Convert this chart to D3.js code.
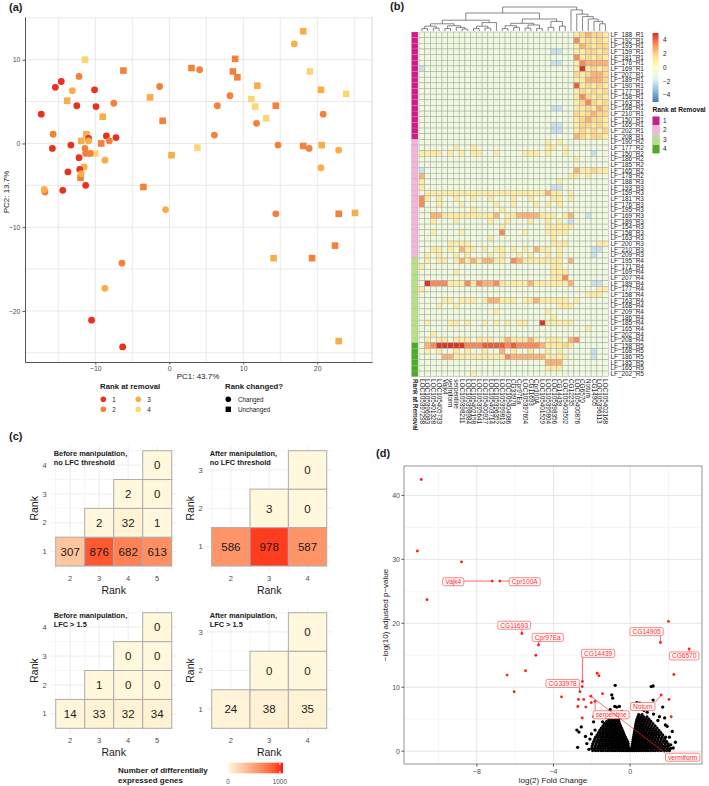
<!DOCTYPE html>
<html>
<head>
<meta charset="utf-8">
<script src="https://cdn.jsdelivr.net/npm/d3@7/dist/d3.min.js"></script>
<style>
  body { margin: 0; background: #fff; }
  svg { display: block; font-family: "Liberation Sans", Arial, sans-serif; }
</style>
</head>
<body>
<svg id="fig" width="709" height="786"></svg>
<script>
// ---------- panel (a) : PCA, [PC1, PC2, rank at removal]
const pcaChanged = [
  [-17.3,3.5,1],[-15.4,6.7,1],[-14.6,7.4,1],[-12.2,8.0,2],[-13.1,6.3,3],[-12.5,4.5,1],
  [-10.1,6.4,1],[-9.9,4.4,1],[-7.5,4.8,2],[-15.7,1.1,2],[-15.8,-0.6,1],[-13.3,-0.2,1],
  [-12.2,-1.7,1],[-11.4,-0.6,2],[-10.9,0.6,1],[-10.9,0.3,3],[-11.3,-1.2,2],[-10.7,-1.2,2],
  [-8.5,0.9,1],[-7.2,0.7,1],[-8.1,0.3,2],[-11.5,-2.8,3],[-12.1,-3.1,1],[-11.9,-3.6,3],
  [-13.7,-3.4,1],[-11.3,-5.0,1],[-8.7,-2.0,3],[-16.8,-5.8,2],[-16.9,-5.5,3],[-14.4,-5.6,1],
  [-1.3,6.8,2],[-0.5,-7.9,3],[4.1,8.8,2],[6.5,4.5,2],[8.2,5.7,2],[6.1,1.0,2],[11.8,2.4,2],
  [14.7,-0.2,2],[14.4,-8.4,2],[16.9,11.9,3],[18.9,-0.6,2],[20.8,3.5,2],[20.5,-2.9,3],
  [22.9,-0.8,3],[-6.4,-14.3,2],[-8.7,-17.3,3],[-10.5,-21.1,1],[-6.3,-24.3,1]
]
const pcaUnchanged = [
  [-11.4,10.0,4],[-6.2,8.7,2],[-13.8,5.1,3],[-9.0,3.2,3],[-11.2,1.1,3],[-11.9,0.3,3],
  [-10.0,-1.2,4],[-9.2,0.0,2],[-12.0,-4.1,2],[-2.6,5.5,3],[-0.9,2.7,2],[0.3,-1.4,3],
  [-3.5,-5.2,2],[3.0,9.0,2],[3.8,-0.5,4],[8.9,10.1,2],[8.6,8.6,2],[9.2,7.9,2],[11.9,6.9,3],
  [11.1,5.3,4],[11.6,4.4,4],[13.1,3.0,4],[14.4,4.5,2],[18.1,13.4,3],[19.0,8.6,4],[20.5,6.4,3],
  [23.9,5.9,4],[18.1,-0.3,2],[20.6,-0.2,3],[22.9,-8.4,2],[25.1,-8.3,3],[22.4,-12.2,2],
  [14.1,-13.7,3],[19.3,-13.7,2],[22.9,-23.6,3]
]
const pcaRanks = [1, 2, 3, 4]
const pcaTicksX = [-10, 0, 10, 20]
const pcaTicksY = [-20, -10, 0, 10]
const pcaGridX = [-15, -10, -5, 0, 5, 10, 15, 20, 25]
const pcaGridY = [-25, -20, -15, -10, -5, 0, 5, 10, 15]

// ---------- panel (b) : heatmap
const rowNames = ['LF_188_R1','LF_192_R1','LF_193_R1','LF_159_R1','LF_181_R1','LF_176_R1','LF_169_R1','LF_207_R1','LF_189_R1','LF_190_R1','LF_177_R1','LF_158_R1','LF_163_R1','LF_168_R1','LF_210_R1','LF_150_R1','LF_165_R1','LF_202_R1','LF_208_R1',
  'LF_190_R2','LF_177_R2','LF_150_R2','LF_186_R2','LF_185_R2','LF_165_R2','LF_178_R2',
  'LF_188_R3','LF_193_R3','LF_159_R3','LF_181_R3','LF_176_R3','LF_195_R3','LF_169_R3','LF_189_R3','LF_154_R3','LF_158_R3','LF_163_R3','LF_200_R3','LF_210_R3','LF_209_R3',
  'LF_195_R4','LF_171_R4','LF_169_R4','LF_207_R4','LF_189_R4','LF_177_R4','LF_158_R4','LF_163_R4','LF_168_R4','LF_209_R4','LF_186_R4','LF_185_R4','LF_165_R4','LF_202_R4','LF_208_R4',
  'LF_158_R5','LF_168_R5','LF_186_R5','LF_185_R5','LF_165_R5','LF_202_R5']
const rowRankAtRemoval = '1111111111111111111222222222222222222222333333333333333444444'
const colNames = ['LOC105397298','LOC105396083','LOC105401328','LOC105405733','Vajk4','vermiform','serpentine',
  'LOC105398211','LOC105398984','LOC105402158','LOC105395641','LOC105400927','LOC105403714','LOC105396352',
  'LOC105399813','LOC105404086','CG33978','Cpr97Ea','LOC105397604','CG11693','Cpr100A','LOC105401529',
  'LOC105395804','LOC105398356','CG14439','LOC105403502','CG12235','LOC105400876','CG6570','Notum',
  'CG14905','LOC105396113','LOC105402168']
// one string per row, one character per gene (see heatCodes)
const heatRows = [
  '........... ........... .....y1211y',
  '........... ........... .....3y1y1y',
  '........... ........... .....y21y11',
  '........... ........... .bb..yy11y1',
  '........... ........... .....3y1y1y',
  '........... ........... .bb..y32222',
  'b.......... ........... .....y5y1y1',
  '........... ........... .....1y1221',
  '........... ........... .....yy2221',
  '........... ........... .....4y1y1y',
  '........... ........... .....y1y1y1',
  '........... ........... .....y31y1y',
  '........... ........... .....y131y1',
  '........... ........... .bb..yy1y21',
  '........... ........... .....1y1211',
  '........... ........... .....y1211y',
  '........... ........... .bb..y11y1y',
  '........... ........... .bb..y1y1y1',
  '........... ........... .....21y11y',
  '........... ........... y.y........',
  '......y..y. ........... yy.y.......',
  'yyyy.y.y.yy ..y....yyy. y..y....b..',
  '........... ........... .....y.....',
  '........... ........... ...........',
  'b.......... ........... .....2yy1yy',
  '2.......... ........... ....yy.y...',
  'y.......... ........... ..y........',
  'y.......... ........... .bb........',
  '.yyyyyyyyyy yyyyyyyyyyy 2yy.y......',
  '3y.y..y..y. .y...y..y.. .yy.y......',
  '3..y...y... ..y..y...y. y.y........',
  '.........y. ...y....... ...........',
  '..22yyyyyyy yy2.yy2222y yy.y2..b...',
  '..y...y.... .y..y...y.. y.y.b......',
  '........... ...y....... yyyyy......',
  '..y....y... ...3...y... yyyy.......',
  '........... .y......... .y.........',
  '.....yyyy.. ........... .yyy.....yy',
  '..yy.y.2yy. y.yy.y.y.2y y.y.....bb.',
  '.y.y..y.y.. .y.y..y.y.. y.y.....b..',
  '.y.yy.y2y2y 22yy.32yyyy yyy.2......',
  'y.......... ........... .yy........',
  '......y.... ........... .yyy.......',
  '........... ........... .yy3.......',
  '.5333yyy3y3 223yyyyy2yy yyyy2...bb.',
  'y.......... ........... .........yy',
  '........... ........... .......yyy.',
  '....yy.yyy. y22yyy.yy2y yyyy.y.....',
  '...y..y.... ........... ..yyy......',
  '........... ..y........ y..........',
  '........... ........... .y.........',
  '.y...yy.y.. y.y.y.yy..5 yyyyy......',
  '........... ........... .......y...',
  '..y........ ........... ...........',
  '.y.yy.yyy.y yy.y2yyy2y. yyy.23.....',
  '.2355555333 44443433332 yyy1y......',
  '.y.y..y.y.. y..2.y..y.. y.y.....b..',
  '....22yyyyy yyyy3222222 yyyy....b..',
  '........... ........... 222........',
  '........... ........... yyy........',
  '.........y. ........... ...........'
]
const heatCodes = {'.': -0.9, 'y': 1.0, '1': 1.8, '2': 2.6, '3': 3.4, '4': 4.2, '5': 4.9, 'b': -2.2, 'B': -3.5}
// column dendrogram: [height, left, right], leaves are column indexes
const colTree = [1.0,
  [0.75,
    [0.45, [0.3, [0.2, [0.1, 0, 1], [0.12, 2, 3]], [0.22, [0.1, 4, 5], [0.15, 6, [0.08, 7, 8]]]], [0.35, [0.2, [0.1, 9, 10], [0.12, 11, 12]], 13]],
    [0.5, [0.32, [0.22, [0.1, 14, 15], [0.15, 16, 17]], [0.25, [0.12, 18, 19], [0.1, 20, 21]]], [0.4, [0.15, 22, 23], [0.2, 24, 25]]]],
  [0.88, 26, [0.7, 27, [0.6, 28, [0.5, 29, [0.4, 30, [0.3, 31, 32]]]]]]]
const heatLegendTicks = [4, 2, 0, -2, -4]
const heatPalette = ['#4575b4', '#91bfdb', '#e0f3f8', '#ffffbf', '#fee090', '#fc8d59', '#d73027']
const annotRanks = ['1', '2', '3', '4']
const annotColors = ['#d01c8b', '#f1b6da', '#b8e186', '#4dac26']

// ---------- panel (c) : DE gene counts, [rank x, rank y, genes]
const degBeforeAll = [[2,1,307],[3,1,876],[4,1,682],[5,1,613],[3,2,2],[4,2,32],[5,2,1],[4,3,2],[5,3,0],[5,4,0]]
const degAfterAll = [[2,1,586],[3,1,978],[4,1,587],[3,2,3],[4,2,0],[4,3,0]]
const degBeforeLfc = [[2,1,14],[3,1,33],[4,1,32],[5,1,34],[3,2,1],[4,2,0],[5,2,0],[4,3,0],[5,3,0],[5,4,0]]
const degAfterLfc = [[2,1,24],[3,1,38],[4,1,35],[3,2,0],[4,2,0],[4,3,0]]
const ranksBeforeX = [2, 3, 4, 5], ranksBeforeY = [1, 2, 3, 4]
const ranksAfterX = [2, 3, 4], ranksAfterY = [1, 2, 3]
const degLegendTicks = [0, 1000]

// ---------- panel (d) : volcano, [log2 FC, -log10 padj]
const volcanoSig = [
  [-10.9,42.5],[-11.1,31.3],[-8.8,29.6],[-10.6,23.7],[-7.2,26.6],[-6.8,26.6],[-5.65,18.4],[-4.78,16.6],
  [-4.92,15.0],[-5.46,12.6],[-6.42,11.9],[-6.05,9.3],[-3.58,8.5],[-2.49,10.9],[-2.5,10.1],[-2.62,9.3],
  [-2.7,8.1],[-2.42,8.1],[-2.73,7.0],[-2.31,6.9],[-2.5,5.2],[-2.03,7.6],[-2.05,8.6],[-1.83,7.8],
  [-1.72,12.2],[-1.63,11.8],[-1.44,9.0],[-1.91,5.4],[2.0,20.3],[1.58,17.0],[3.08,16.0],[2.28,12.0],
  [1.62,8.8],[2.03,8.1],[2.14,5.4]
]
const volcanoNsSparse = [
  [-0.78,10.3],[1.1,10.1],[1.2,10.2],[-0.96,8.8],[-0.91,8.3],[-0.8,7.0],[-0.7,6.9],[-0.56,7.0],
  [0.35,7.6],[0.5,7.5],[1.2,8.0],[1.7,6.9],[1.8,5.2],[1.84,4.1],[1.93,3.9],[2.36,1.4],[-2.78,3.3],
  [-2.55,3.8],[-2.67,3.0],[-2.74,0.6],[-2.26,1.2],[-2.33,2.3],[-1.56,0.8],[-1.63,2.3],[-1.46,2.8],
  [-1.83,3.3],[-1.91,4.6],[-1.2,5.4],[-1.04,6.5],[-1.44,4.6],[1.22,5.8],[1.53,5.4],[0.89,6.1],
  [2.2,3.1],[2.05,2.2],[-2.1,1.9],[-2.15,0.3],[2.25,0.5],[-0.45,6.2],[0.72,6.4],[-1.35,6.0],
  [1.45,4.8],[-2.02,2.7],[2.12,1.0]
]
// dense core of the cloud: [y, x values]
const volcanoNsCore = [
  [0.1, [-1.95,-1.8,-1.66,-1.52,-1.4,-1.27,-1.15,-1.02,-0.9,-0.78,-0.66,-0.55,-0.44,-0.33,-0.22,-0.12,-0.04,0.04,0.13,0.23,0.34,0.45,0.57,0.69,0.81,0.93,1.06,1.19,1.32,1.46,1.6,1.75,1.9,2.05]],
  [0.45, [-2.0,-1.85,-1.7,-1.56,-1.43,-1.3,-1.17,-1.05,-0.93,-0.81,-0.69,-0.58,-0.47,-0.36,-0.25,-0.15,-0.06,0.07,0.16,0.26,0.37,0.48,0.6,0.72,0.84,0.96,1.09,1.22,1.36,1.5,1.65,1.8,1.96,2.12]],
  [0.8, [-1.98,-1.82,-1.67,-1.53,-1.4,-1.27,-1.14,-1.01,-0.89,-0.77,-0.65,-0.54,-0.43,-0.32,-0.21,-0.1,0.1,0.2,0.31,0.42,0.53,0.65,0.77,0.89,1.01,1.14,1.27,1.41,1.55,1.7,1.85,2.0]],
  [1.15, [-1.95,-1.78,-1.62,-1.48,-1.35,-1.22,-1.09,-0.97,-0.85,-0.73,-0.61,-0.5,-0.39,-0.28,-0.17,-0.1,0.12,0.22,0.33,0.45,0.57,0.69,0.82,0.95,1.08,1.21,1.35,1.5,1.65,1.82,1.98]],
  [1.5, [-1.9,-1.74,-1.59,-1.45,-1.31,-1.18,-1.05,-0.93,-0.81,-0.69,-0.57,-0.46,-0.35,-0.24,-0.13,0.14,0.25,0.36,0.48,0.6,0.72,0.85,0.98,1.12,1.26,1.41,1.57,1.74,1.9]],
  [1.85, [-1.85,-1.68,-1.53,-1.39,-1.25,-1.12,-0.99,-0.87,-0.75,-0.63,-0.52,-0.41,-0.3,-0.19,0.16,0.27,0.38,0.5,0.62,0.75,0.88,1.01,1.15,1.3,1.45,1.62,1.8]],
  [2.2, [-1.8,-1.63,-1.48,-1.34,-1.2,-1.07,-0.94,-0.82,-0.7,-0.58,-0.47,-0.36,-0.25,0.18,0.29,0.41,0.53,0.65,0.78,0.91,1.05,1.19,1.34,1.5,1.67,1.85]],
  [2.55, [-1.72,-1.56,-1.41,-1.27,-1.14,-1.01,-0.88,-0.76,-0.64,-0.52,-0.41,-0.3,0.2,0.31,0.43,0.55,0.68,0.81,0.94,1.08,1.22,1.37,1.53,1.7]],
  [2.9, [-1.65,-1.49,-1.35,-1.21,-1.08,-0.95,-0.82,-0.7,-0.58,-0.46,-0.35,0.22,0.34,0.46,0.58,0.71,0.84,0.98,1.12,1.27,1.43,1.6]],
  [3.25, [-1.58,-1.42,-1.28,-1.14,-1.01,-0.88,-0.76,-0.64,-0.52,-0.4,0.24,0.36,0.48,0.61,0.74,0.88,1.02,1.17,1.33,1.5]],
  [3.6, [-1.5,-1.35,-1.21,-1.07,-0.94,-0.81,-0.69,-0.57,-0.45,0.26,0.38,0.51,0.64,0.78,0.92,1.07,1.23,1.4]],
  [3.95, [-1.42,-1.27,-1.13,-1.0,-0.87,-0.75,-0.63,-0.5,0.28,0.41,0.54,0.68,0.82,0.97,1.13,1.3]],
  [4.3, [-1.33,-1.18,-1.05,-0.92,-0.8,-0.68,-0.55,0.3,0.43,0.57,0.71,0.86,1.02,1.19]],
  [4.65, [-1.22,-1.08,-0.95,-0.83,-0.71,-0.59,0.33,0.46,0.6,0.75,0.91,1.08]],
  [5.0, [-1.1,-0.96,-0.84,-0.72,-0.61,0.36,0.5,0.65,0.81,0.98]],
  [5.35, [-0.98,-0.85,-0.73,-0.62,0.4,0.55,0.71,0.88]],
  [5.7, [-0.86,-0.72,-0.6,0.45,0.62]]
]
// gene, point x, point y, label x, label y
const volcanoGenes = [
  ['Vajk4', -7.2, 26.6, -9.23, 26.5],
  ['Cpr100A', -6.8, 26.6, -5.5, 26.5],
  ['CG11693', -5.65, 18.4, -6.05, 19.7],
  ['Cpr97Ea', -4.78, 16.6, -4.3, 17.8],
  ['CG14439', -2.49, 10.9, -1.67, 15.3],
  ['CG33978', -2.62, 9.3, -3.52, 10.6],
  ['serpentine', -1.83, 7.8, -0.99, 5.7],
  ['Notum', 1.62, 8.8, 0.66, 7.0],
  ['CG14905', 1.58, 17.0, 0.86, 18.7],
  ['CG6570', 3.08, 16.0, 2.82, 14.9],
  ['vermiform', -2.05, 8.6, 2.74, -0.94]
]
const volTicksX = [-8, -4, 0], volMinorX = [-10, -6, -2, 2]
const volTicksY = [0, 10, 20, 30, 40], volMinorY = [5, 15, 25, 35]

const svg = d3.select('#fig')
const grey = '#4d4d4d'
svg.append('rect').attr('width', 709).attr('height', 786).attr('fill', '#fff')

function label(g, x, y, s, size, o) {
  o = o || {}
  return g.append('text').attr('x', x).attr('y', y).text(s)
    .attr('font-size', size)
    .attr('fill', o.fill || '#1a1a1a')
    .attr('font-weight', o.bold ? 'bold' : null)
    .attr('text-anchor', o.anchor || 'start')
    .attr('transform', o.rot ? `rotate(${o.rot},${x},${y})` : null)
}

// panel letters
label(svg, 9, 11, '(a)', 11, {bold: true})
label(svg, 390, 10, '(b)', 11, {bold: true})
label(svg, 9, 440, '(c)', 11, {bold: true})
label(svg, 376, 457, '(d)', 11, {bold: true})

// ================= (a)
const pa = svg.append('g')
const ax = d3.scaleLinear().domain([-19.5, 27.4]).range([25, 372])
const ay = d3.scaleLinear().domain([-26.1, 15.1]).range([362, 17])
const pcaColor = d3.scaleOrdinal().domain(pcaRanks).range(['#e8311f', '#f5803a', '#f9ac48', '#fdd673'])

pa.selectAll('.gx').data(pcaGridX).join('line')
  .attr('x1', d => ax(d)).attr('x2', d => ax(d)).attr('y1', 17).attr('y2', 362)
  .attr('stroke', '#e3e3e3').attr('stroke-width', 0.8)
pa.selectAll('.gy').data(pcaGridY).join('line')
  .attr('y1', d => ay(d)).attr('y2', d => ay(d)).attr('x1', 25).attr('x2', 372)
  .attr('stroke', '#e3e3e3').attr('stroke-width', 0.8)
pa.append('line').attr('x1', 372).attr('x2', 372).attr('y1', 17).attr('y2', 362).attr('stroke', '#d6d6d6')

function styleAxis(g, size) {
  g.select('.domain').attr('stroke', '#555')
  g.selectAll('.tick line').attr('stroke', '#555')
  g.selectAll('text').attr('fill', grey).attr('font-size', size).attr('font-family', null)
}
pa.append('g').attr('transform', 'translate(0,362)')
  .call(d3.axisBottom(ax).tickValues(pcaTicksX).tickSize(2.5).tickSizeOuter(0).tickPadding(2))
  .call(g => styleAxis(g, 7))
pa.append('g').attr('transform', 'translate(25,0)')
  .call(d3.axisLeft(ay).tickValues(pcaTicksY).tickSize(2.5).tickSizeOuter(0).tickPadding(2))
  .call(g => styleAxis(g, 7))

pa.selectAll('.sq').data(pcaUnchanged).join('rect')
  .attr('x', d => ax(d[0]) - 3.3).attr('y', d => ay(d[1]) - 3.3)
  .attr('width', 6.6).attr('height', 6.6)
  .attr('fill', d => pcaColor(d[2]))
pa.selectAll('.ci').data(pcaChanged).join('circle')
  .attr('cx', d => ax(d[0])).attr('cy', d => ay(d[1])).attr('r', 3.4)
  .attr('fill', d => pcaColor(d[2]))

label(pa, 198, 379, 'PC1: 43.7%', 8, {anchor: 'middle'})
label(pa, 9, 192, 'PC2: 13.7%', 8, {anchor: 'middle', rot: -90})

// legend (a)
label(pa, 100, 389, 'Rank at removal', 7.8, {bold: true})
pcaRanks.forEach((r, i) => {
  const x = 103.3 + Math.floor(i / 2) * 35, y = 399.3 + (i % 2) * 10
  pa.append('circle').attr('cx', x).attr('cy', y).attr('r', 2.8).attr('fill', pcaColor(r))
  label(pa, x + 9, y + 2.3, String(r), 6.3)
})
label(pa, 225, 389, 'Rank changed?', 7.8, {bold: true})
pa.append('circle').attr('cx', 228.3).attr('cy', 399.3).attr('r', 2.8).attr('fill', '#000')
pa.append('rect').attr('x', 225.6).attr('y', 406.6).attr('width', 5.4).attr('height', 5.4).attr('fill', '#000')
label(pa, 238, 401.6, 'Changed', 6.3)
label(pa, 238, 411.6, 'Unchanged', 6.3)

// ================= (b)
const pb = svg.append('g')
const hx = d3.scaleBand().domain(d3.range(colNames.length)).range([419, 608.3])
const hy = d3.scaleBand().domain(d3.range(rowNames.length)).range([32, 376.7])
const heatColor = d3.scaleLinear().domain(d3.range(7).map(i => -5 + i * 10 / 6)).range(heatPalette)
const annotColor = d3.scaleOrdinal().domain(annotRanks).range(annotColors)

const cells = []
heatRows.forEach((s, r) => {
  const chars = s.replace(/ /g, '').padEnd(colNames.length, '.')
  for (let c = 0; c < colNames.length; c++) cells.push({r, c, v: heatCodes[chars[c]]})
})
pb.selectAll('.cell').data(cells).join('rect')
  .attr('x', d => hx(d.c)).attr('y', d => hy(d.r))
  .attr('width', hx.bandwidth()).attr('height', hy.bandwidth())
  .attr('fill', d => heatColor(d.v))
  .attr('stroke', '#a6a6a6').attr('stroke-width', 0.5)

pb.selectAll('.ann').data(rowRankAtRemoval.split('')).join('rect')
  .attr('x', 411.5).attr('y', (d, i) => hy(i))
  .attr('width', 6.5).attr('height', hy.bandwidth())
  .attr('fill', d => annotColor(d))
  .attr('stroke', '#a6a6a6').attr('stroke-width', 0.25)

pb.selectAll('.rl').data(rowNames).join('text')
  .attr('x', 610.5).attr('y', (d, i) => hy(i) + hy.bandwidth() / 2 + 2.2)
  .attr('font-size', 6.4).attr('fill', '#222').text(d => d)

pb.selectAll('.cl').data(colNames).join('text')
  .attr('transform', (d, i) => `translate(${hx(i) + hx.bandwidth() / 2 - 2.2},379) rotate(90)`)
  .attr('font-size', 6.4).attr('fill', '#222').text(d => d)
pb.append('text').attr('transform', 'translate(412.6,379) rotate(90)')
  .attr('font-size', 6.4).attr('font-weight', 'bold').attr('fill', '#222').text('Rank at Removal')

// dendrogram
const dy = d3.scaleLinear().domain([0, 1]).range([31, 7])
const tree = pb.append('g').attr('fill', 'none').attr('stroke', '#555').attr('stroke-width', 0.7)
function drawTree(node) {
  if (typeof node === 'number') return {x: hx(node) + hx.bandwidth() / 2, y: dy(0)}
  const l = drawTree(node[1]), r = drawTree(node[2]), y = dy(node[0])
  tree.append('path').attr('d', `M${l.x},${l.y}V${y}H${r.x}V${r.y}`)
  return {x: (l.x + r.x) / 2, y: y}
}
drawTree(colTree)

// heat legend
const ly = d3.scaleLinear().domain([-5, 5]).range([102, 33])
const grad = svg.append('defs').append('linearGradient').attr('id', 'heatGrad')
  .attr('x1', 0).attr('y1', 1).attr('x2', 0).attr('y2', 0)
heatPalette.forEach((c, i) => grad.append('stop').attr('offset', i / 6).attr('stop-color', c))
pb.append('rect').attr('x', 652.5).attr('y', 33).attr('width', 6).attr('height', 69).attr('fill', 'url(#heatGrad)')
heatLegendTicks.forEach(t => label(pb, 663, ly(t) + 2.3, t < 0 ? '\u2212' + (-t) : String(t), 6.4, {fill: '#222'}))
label(pb, 652.5, 112, 'Rank at Removal', 6.6, {bold: true, fill: '#111'})
annotRanks.forEach((r, i) => {
  pb.append('rect').attr('x', 652.5).attr('y', 116.5 + i * 9.4).attr('width', 7).attr('height', 8.6)
    .attr('fill', annotColor(r)).attr('stroke', '#a6a6a6').attr('stroke-width', 0.3)
  label(pb, 663, 123 + i * 9.4, r, 6.4, {fill: '#222'})
})

// ================= (c)
const degFill = d3.scaleLinear().domain([0, 1060]).range(['#fff8dc', '#ff1a0a']).interpolate(d3.interpolateLab)
const degPanels = [
  {data: degBeforeAll, xs: ranksBeforeX, ys: ranksBeforeY, x: [55.7, 171.7], y: [450.7, 566], title: ['Before manipulation,', 'no LFC threshold']},
  {data: degAfterAll, xs: ranksAfterX, ys: ranksAfterY, x: [211.7, 326.7], y: [450.7, 566], title: ['After manipulation,', 'no LFC threshold']},
  {data: degBeforeLfc, xs: ranksBeforeX, ys: ranksBeforeY, x: [55.7, 171.7], y: [612.7, 728.3], title: ['Before manipulation,', 'LFC > 1.5']},
  {data: degAfterLfc, xs: ranksAfterX, ys: ranksAfterY, x: [211.7, 326.7], y: [612.7, 728.3], title: ['After manipulation,', 'LFC > 1.5']}
]
degPanels.forEach(p => {
  const g = svg.append('g')
  const bx = d3.scaleBand().domain(p.xs).range(p.x)
  const by = d3.scaleBand().domain(p.ys.slice().reverse()).range(p.y)
  const px0 = p.x[0] - 5, px1 = p.x[1] + 5, py0 = p.y[0] - 4.5, py1 = p.y[1] + 5
  p.xs.forEach(v => {
    const c = bx(v) + bx.bandwidth() / 2
    g.append('line').attr('x1', c).attr('x2', c).attr('y1', py0).attr('y2', py1).attr('stroke', '#ebebeb').attr('stroke-width', 0.9)
  })
  d3.range(p.xs.length + 1).forEach(i => {
    const c = p.x[0] + i * bx.bandwidth()
    g.append('line').attr('x1', c).attr('x2', c).attr('y1', py0).attr('y2', py1).attr('stroke', '#ededed').attr('stroke-width', 0.5)
  })
  p.ys.forEach(v => {
    const c = by(v) + by.bandwidth() / 2
    g.append('line').attr('y1', c).attr('y2', c).attr('x1', px0).attr('x2', px1).attr('stroke', '#ebebeb').attr('stroke-width', 0.9)
  })
  d3.range(p.ys.length + 1).forEach(i => {
    const c = p.y[0] + i * by.bandwidth()
    g.append('line').attr('y1', c).attr('y2', c).attr('x1', px0).attr('x2', px1).attr('stroke', '#ededed').attr('stroke-width', 0.5)
  })
  g.selectAll('.tile').data(p.data).join('rect')
    .attr('x', d => bx(d[0])).attr('y', d => by(d[1]))
    .attr('width', bx.bandwidth()).attr('height', by.bandwidth())
    .attr('fill', d => degFill(d[2])).attr('stroke', '#acacac').attr('stroke-width', 1)
  g.selectAll('.num').data(p.data).join('text')
    .attr('x', d => bx(d[0]) + bx.bandwidth() / 2).attr('y', d => by(d[1]) + by.bandwidth() / 2 + 4.2)
    .attr('text-anchor', 'middle').attr('font-size', 11.5).attr('fill', '#1a1a1a').text(d => d[2])
  p.xs.forEach(v => label(g, bx(v) + bx.bandwidth() / 2, p.y[1] + 15, String(v), 7.5, {anchor: 'middle', fill: grey}))
  p.ys.forEach(v => label(g, p.x[0] - 9, by(v) + by.bandwidth() / 2 + 2.6, String(v), 7.5, {anchor: 'end', fill: grey}))
  label(g, (p.x[0] + p.x[1]) / 2, p.y[1] + 27.5, 'Rank', 10.5, {anchor: 'middle'})
  label(g, p.x[0] - 18, (p.y[0] + p.y[1]) / 2, 'Rank', 10.5, {anchor: 'middle', rot: -90})
  label(g, p.x[0] - 2, p.y[0] + 5.5, p.title[0], 7.4, {bold: true})
  label(g, p.x[0] - 2, p.y[0] + 13.8, p.title[1], 7.4, {bold: true})
})

// legend (c)
const dlx = d3.scaleLinear().domain([0, 1060]).range([228, 283])
const dgrad = svg.select('defs').append('linearGradient').attr('id', 'degGrad')
d3.range(11).forEach(i => dgrad.append('stop').attr('offset', i / 10).attr('stop-color', degFill(i * 106)))
svg.append('rect').attr('x', 228).attr('y', 762.7).attr('width', 55).attr('height', 10.6).attr('fill', 'url(#degGrad)')
degLegendTicks.forEach(t => {
  svg.append('line').attr('x1', dlx(t)).attr('x2', dlx(t)).attr('y1', 762.7).attr('y2', 765).attr('stroke', '#fff')
  svg.append('line').attr('x1', dlx(t)).attr('x2', dlx(t)).attr('y1', 771).attr('y2', 773.3).attr('stroke', '#fff')
  label(svg, dlx(t), 783.5, String(t), 6.4, {anchor: 'middle', fill: grey})
})
label(svg, 118, 773, 'Number of differentially', 8, {bold: true})
label(svg, 118, 782.5, 'expressed genes', 8, {bold: true})

// ================= (d)
const pd = svg.append('g')
const vx = d3.scaleLinear().domain([-11.8, 3.75]).range([404, 702])
const vy = d3.scaleLinear().domain([-2.0, 44.6]).range([764, 466])
volMinorX.forEach(v => pd.append('line').attr('x1', vx(v)).attr('x2', vx(v)).attr('y1', 466).attr('y2', 764).attr('stroke', '#ececec').attr('stroke-width', 0.5))
volMinorY.forEach(v => pd.append('line').attr('y1', vy(v)).attr('y2', vy(v)).attr('x1', 404).attr('x2', 702).attr('stroke', '#ececec').attr('stroke-width', 0.5))
volTicksX.forEach(v => pd.append('line').attr('x1', vx(v)).attr('x2', vx(v)).attr('y1', 466).attr('y2', 764).attr('stroke', '#e2e2e2').attr('stroke-width', 0.9))
volTicksY.forEach(v => pd.append('line').attr('y1', vy(v)).attr('y2', vy(v)).attr('x1', 404).attr('x2', 702).attr('stroke', '#e2e2e2').attr('stroke-width', 0.9))

const nsPoints = volcanoNsSparse.slice()
volcanoNsCore.forEach(b => b[1].forEach(x => nsPoints.push([x, b[0]])))
pd.selectAll('.ns').data(nsPoints).join('circle')
  .attr('cx', d => vx(d[0])).attr('cy', d => vy(d[1])).attr('r', 1.65).attr('fill', '#000')
pd.selectAll('.sig').data(volcanoSig).join('circle')
  .attr('cx', d => vx(d[0])).attr('cy', d => vy(d[1])).attr('r', 1.45).attr('fill', '#ff1f1f')

// gene labels
volcanoGenes.forEach(d => {
  const t = pd.append('text').attr('x', vx(d[3])).attr('y', vy(d[4]) + 2.3)
    .attr('text-anchor', 'middle').attr('font-size', 6.6).attr('fill', '#ff2a2a').text(d[0])
  const w = t.node().getComputedTextLength() + 5, h = 8
  const bx0 = vx(d[3]) - w / 2, by0 = vy(d[4]) - h / 2
  const px = vx(d[1]), py = vy(d[2])
  const ex = Math.max(bx0, Math.min(px, bx0 + w)), ey = Math.max(by0, Math.min(py, by0 + h))
  pd.insert('line', 'text').attr('x1', px).attr('y1', py).attr('x2', ex).attr('y2', ey)
    .attr('stroke', '#ff2a2a').attr('stroke-width', 0.7)
  pd.insert('rect', 'text').attr('x', bx0).attr('y', by0).attr('width', w).attr('height', h).attr('rx', 1.5)
    .attr('fill', '#fff').attr('stroke', '#ff5050').attr('stroke-width', 0.7)
})
pd.append('rect').attr('x', 404).attr('y', 466).attr('width', 298).attr('height', 298)
  .attr('fill', 'none').attr('stroke', '#7a7a7a').attr('stroke-width', 0.8)

volTicksX.forEach(v => {
  pd.append('line').attr('x1', vx(v)).attr('x2', vx(v)).attr('y1', 764).attr('y2', 766.5).attr('stroke', '#555')
  label(pd, vx(v), 773.5, v < 0 ? '\u2212' + (-v) : String(v), 7, {anchor: 'middle', fill: grey})
})
volTicksY.forEach(v => {
  pd.append('line').attr('x1', 401.5).attr('x2', 404).attr('y1', vy(v)).attr('y2', vy(v)).attr('stroke', '#555')
  label(pd, 400, vy(v) + 2.4, String(v), 7, {anchor: 'end', fill: grey})
})
label(pd, 553, 783, 'log(2) Fold Change', 8, {anchor: 'middle'})
label(pd, 388, 615, '\u2212log(10) adjusted p\u2212value', 8, {anchor: 'middle', rot: -90})
</script>
</body>
</html>
